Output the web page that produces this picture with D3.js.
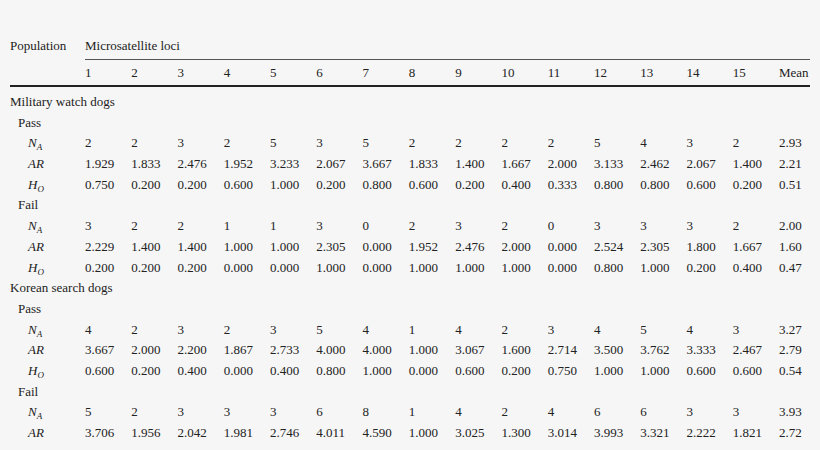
<!DOCTYPE html>
<html>
<head>
<meta charset="utf-8">
<script src="https://cdn.jsdelivr.net/npm/d3@7"></script>
<style>
  body { margin: 0; background: #f6f6f6; }
  svg text { font-family: 'Liberation Serif', 'Times New Roman', Times, 'DejaVu Serif', serif; font-size: 13px; fill: #222; }
</style>
</head>
<body>
<svg width="820" height="450"></svg>
<script>
var columns = ["1","2","3","4","5","6","7","8","9","10","11","12","13","14","15","Mean"];

var militaryPassNA = ["2","2","3","2","5","3","5","2","2","2","2","5","4","3","2","2.93"];
var militaryPassAR = ["1.929","1.833","2.476","1.952","3.233","2.067","3.667","1.833","1.400","1.667","2.000","3.133","2.462","2.067","1.400","2.21"];
var militaryPassHO = ["0.750","0.200","0.200","0.600","1.000","0.200","0.800","0.600","0.200","0.400","0.333","0.800","0.800","0.600","0.200","0.51"];
var militaryFailNA = ["3","2","2","1","1","3","0","2","3","2","0","3","3","3","2","2.00"];
var militaryFailAR = ["2.229","1.400","1.400","1.000","1.000","2.305","0.000","1.952","2.476","2.000","0.000","2.524","2.305","1.800","1.667","1.60"];
var militaryFailHO = ["0.200","0.200","0.200","0.000","0.000","1.000","0.000","1.000","1.000","1.000","0.000","0.800","1.000","0.200","0.400","0.47"];
var koreanPassNA = ["4","2","3","2","3","5","4","1","4","2","3","4","5","4","3","3.27"];
var koreanPassAR = ["3.667","2.000","2.200","1.867","2.733","4.000","4.000","1.000","3.067","1.600","2.714","3.500","3.762","3.333","2.467","2.79"];
var koreanPassHO = ["0.600","0.200","0.400","0.000","0.400","0.800","1.000","0.000","0.600","0.200","0.750","1.000","1.000","0.600","0.600","0.54"];
var koreanFailNA = ["5","2","3","3","3","6","8","1","4","2","4","6","6","3","3","3.93"];
var koreanFailAR = ["3.706","1.956","2.042","1.981","2.746","4.011","4.590","1.000","3.025","1.300","3.014","3.993","3.321","2.222","1.821","2.72"];

// rows: [kind, label, values]
var rows = [
  ["group", "Military watch dogs"],
  ["sub", "Pass"],
  ["NA", "N", militaryPassNA], ["AR", "AR", militaryPassAR], ["HO", "H", militaryPassHO],
  ["sub", "Fail"],
  ["NA", "N", militaryFailNA], ["AR", "AR", militaryFailAR], ["HO", "H", militaryFailHO],
  ["group", "Korean search dogs"],
  ["sub", "Pass"],
  ["NA", "N", koreanPassNA], ["AR", "AR", koreanPassAR], ["HO", "H", koreanPassHO],
  ["sub", "Fail"],
  ["NA", "N", koreanFailNA], ["AR", "AR", koreanFailAR]
];

var svg = d3.select("svg");
var x = d3.scalePoint().domain(columns).range([85, 779]);
var y = d3.scaleLinear().domain([0, rows.length - 1]).range([106, 437]);

svg.append("text").attr("x", 10).attr("y", 50).text("Population");
svg.append("text").attr("x", 85).attr("y", 50).text("Microsatellite loci");
svg.append("line").attr("x1", 85).attr("x2", 810).attr("y1", 59.5).attr("y2", 59.5)
  .attr("stroke", "#555").attr("stroke-width", 1);
svg.selectAll(".colhead").data(columns).enter().append("text")
  .attr("x", function(d) { return x(d); }).attr("y", 77).text(function(d) { return d; });
svg.append("line").attr("x1", 10).attr("x2", 810).attr("y1", 86).attr("y2", 86)
  .attr("stroke", "#222").attr("stroke-width", 2);

var indent = {group: 10, sub: 18, NA: 28, AR: 28, HO: 28};
var sub = {NA: "A", HO: "O"};

var row = svg.selectAll(".row").data(rows).enter().append("g")
  .attr("transform", function(d, i) { return "translate(0," + y(i) + ")"; });

var label = row.append("text").attr("x", function(d) { return indent[d[0]]; })
  .style("font-style", function(d) { return d[2] ? "italic" : "normal"; });
label.append("tspan").text(function(d) { return d[1]; });
label.filter(function(d) { return sub[d[0]]; }).append("tspan")
  .attr("dy", 3).style("font-size", "9px").text(function(d) { return sub[d[0]]; });

row.filter(function(d) { return d[2]; }).selectAll(".cell")
  .data(function(d) { return d[2]; }).enter().append("text")
  .attr("x", function(d, i) { return x(columns[i]); })
  .text(function(d) { return d; });
</script>
</body>
</html>
